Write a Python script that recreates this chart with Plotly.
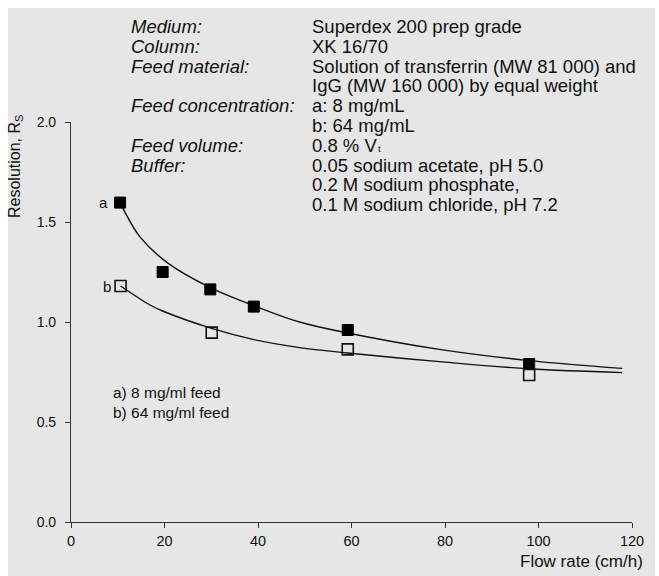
import plotly.graph_objects as go

# ---------------- data ----------------
flow_a = [10.5, 19.6, 29.8, 39.1, 59.2, 98.0]
res_a = [1.597, 1.25, 1.163, 1.077, 0.96, 0.79]
flow_b = [10.6, 30.1, 59.2, 98.0]
res_b = [1.18, 0.947, 0.863, 0.735]

fit_a_x = [10.5, 11.5, 14.7, 20.8, 29.8, 39.1, 48.9, 59.2, 78.8, 98.0, 117.9]
fit_a_y = [1.597, 1.551, 1.427, 1.293, 1.172, 1.082, 1.0, 0.945, 0.863, 0.807, 0.768]
fit_b_x = [10.6, 16.9, 19.6, 30.1, 39.1, 48.9, 59.2, 78.8, 98.0, 117.9]
fit_b_y = [1.18, 1.085, 1.055, 0.968, 0.912, 0.872, 0.845, 0.802, 0.766, 0.747]

x_ticks = [0, 20, 40, 60, 80, 100, 120]
y_ticks = [0.0, 0.5, 1.0, 1.5, 2.0]

info_labels = ["Medium:", "Column:", "Feed material:", "", "Feed concentration:", "",
               "Feed volume:", "Buffer:", "", ""]
info_values = ["Superdex 200 prep grade", "XK 16/70",
               "Solution of transferrin (MW 81 000) and",
               "IgG (MW 160 000) by equal weight",
               "a: 8 mg/mL", "b: 64 mg/mL", "0.8 % V",
               "0.05 sodium acetate, pH 5.0", "0.2 M sodium phosphate,",
               "0.1 M sodium chloride, pH 7.2"]
volume_subscript = "t"
legend_lines = ["a) 8 mg/ml feed", "b) 64 mg/ml feed"]
x_title = "Flow rate (cm/h)"
y_title = "Resolution, R<sub>S</sub>"

# ---------------- layout geometry (pixels) ----------------
W, H = 659, 576
L, R, T, B = 71, 27, 122, 54
PW, PH = W - L - R, H - T - B
FONT = "Liberation Sans, Arial, Helvetica, sans-serif"
INK = "#111111"
AXC = "#333333"
BG = "#e6e6e6"


def pxx(px):
    return (px - L) / PW


def pxy(py):
    return (H - B - py) / PH


fig = go.Figure()
fig.add_trace(go.Scatter(x=fit_a_x, y=fit_a_y, mode="lines",
                         line=dict(color="#111111", width=1.4, shape="spline", smoothing=1.0),
                         hoverinfo="skip", showlegend=False))
fig.add_trace(go.Scatter(x=fit_b_x, y=fit_b_y, mode="lines",
                         line=dict(color="#111111", width=1.4, shape="spline", smoothing=1.0),
                         hoverinfo="skip", showlegend=False))
fig.add_trace(go.Scatter(x=flow_a, y=res_a, mode="markers",
                         marker=dict(symbol="square", size=11, color="#000000",
                                     line=dict(color="#000000", width=1)),
                         showlegend=False))
fig.add_trace(go.Scatter(x=flow_b, y=res_b, mode="markers",
                         marker=dict(symbol="square-open", size=11, color="#111111",
                                     line=dict(color="#111111", width=1.6)),
                         showlegend=False))

annotations = []
# info block
row0, pitch = 26.5, 19.8
for k, (lab, val) in enumerate(zip(info_labels, info_values)):
    yc = pxy(row0 + pitch * k)
    if lab:
        annotations.append(dict(x=pxx(130), y=yc, xref="paper", yref="paper",
                                text="<i>" + lab + "</i>", showarrow=False,
                                xanchor="left", yanchor="middle", borderpad=0,
                                font=dict(family=FONT, size=18.5, color=INK)))
    annotations.append(dict(x=pxx(311), y=yc, xref="paper", yref="paper",
                            text=val, showarrow=False, xanchor="left", yanchor="middle",
                            borderpad=0,
                            font=dict(family=FONT, size=18.5, color=INK)))
# subscript of V_t drawn as its own small text
annotations.append(dict(x=pxx(377), y=pxy(row0 + pitch * 6 + 3.5), xref="paper", yref="paper",
                        text=volume_subscript, showarrow=False, xanchor="left",
                        yanchor="middle", borderpad=0,
                        font=dict(family=FONT, size=9.5, color=INK)))

# point labels a / b
annotations.append(dict(x=flow_a[0], y=res_a[0], xref="x", yref="y", text="a",
                        showarrow=False, xanchor="right", yanchor="middle", xshift=-10,
                        font=dict(family=FONT, size=15, color=INK)))
annotations.append(dict(x=flow_b[0], y=res_b[0], xref="x", yref="y", text="b",
                        showarrow=False, xanchor="right", yanchor="middle", xshift=-8,
                        font=dict(family=FONT, size=15, color=INK)))

# legend text
for k, line in enumerate(legend_lines):
    annotations.append(dict(x=pxx(112), y=pxy(392.7 + 20 * k), xref="paper", yref="paper",
                            text=line, showarrow=False, xanchor="left", yanchor="middle",
                            borderpad=0,
                            font=dict(family=FONT, size=15.5, color=INK)))

# axis titles
annotations.append(dict(x=pxx(645), y=pxy(561), xref="paper", yref="paper", text=x_title,
                        showarrow=False, xanchor="right", yanchor="middle",
                        font=dict(family=FONT, size=17, color=INK)))
annotations.append(dict(x=pxx(15), y=pxy(166), xref="paper", yref="paper", text=y_title,
                        showarrow=False, xanchor="center", yanchor="middle", textangle=-90,
                        font=dict(family=FONT, size=16, color=INK)))

shapes = [dict(type="rect", xref="paper", yref="paper",
               x0=pxx(8), x1=pxx(655), y0=pxy(8), y1=pxy(H + 20),
               fillcolor=BG, line=dict(width=0), layer="below")]

fig.update_layout(
    width=W, height=H,
    margin=dict(l=L, r=R, t=T, b=B, pad=0),
    paper_bgcolor="#ffffff", plot_bgcolor="rgba(0,0,0,0)",
    font=dict(family=FONT, color=INK),
    showlegend=False,
    annotations=annotations,
    shapes=shapes,
    xaxis=dict(range=[0, 120], tickvals=x_ticks, ticks="outside", ticklen=5, tickwidth=1,
               tickcolor=AXC, showline=True, linecolor=AXC, linewidth=1.2,
               showgrid=False, zeroline=False, tickfont=dict(family=FONT, size=14.5, color=INK)),
    yaxis=dict(range=[0, 2], tickvals=y_ticks, tickformat=".1f", ticks="outside", ticklen=5,
               tickwidth=1, tickcolor=AXC, showline=True, linecolor=AXC, linewidth=1.2,
               showgrid=False, zeroline=False, ticklabelstandoff=6,
               tickfont=dict(family=FONT, size=14, color=INK)),
)

fig.write_html("out.html")
